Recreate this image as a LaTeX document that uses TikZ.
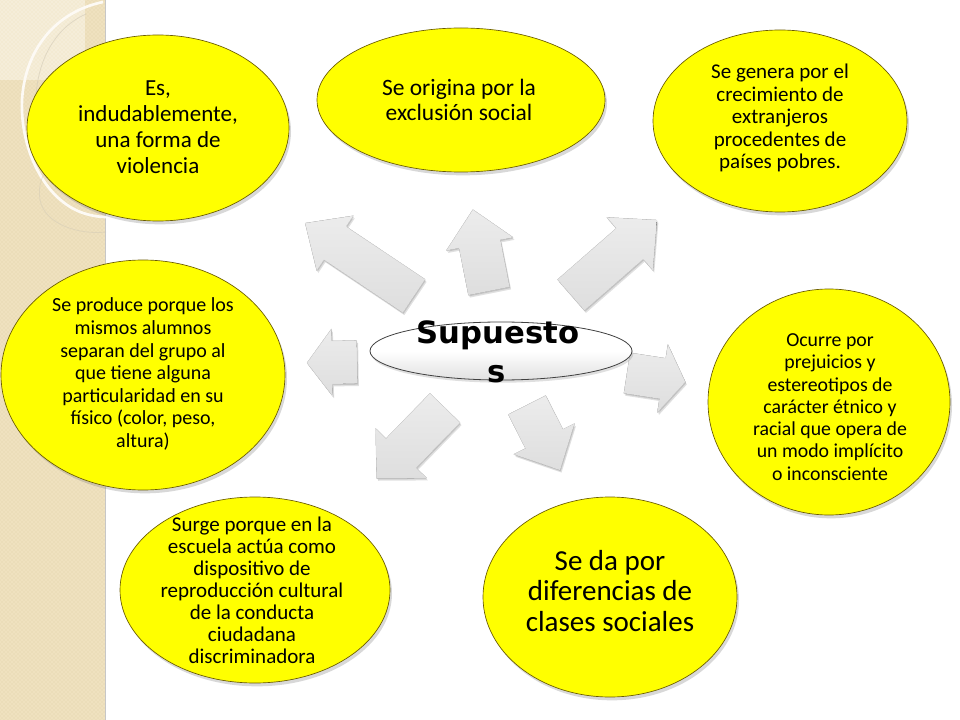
\documentclass[tikz,border=0pt]{standalone}
\usepackage{fontspec}
\setmainfont{Carlito}
\newfontfamily\hdfont{DejaVu Sans Bold}
\usetikzlibrary{shapes.geometric,shadows,patterns}
\definecolor{bubfill}{RGB}{255,255,0}
\definecolor{bubdraw}{RGB}{105,90,0}
\definecolor{stripc}{RGB}{239,225,191}
\definecolor{striptop}{RGB}{245,237,217}
\definecolor{stripdot}{RGB}{226,208,168}
\definecolor{arrtop}{RGB}{236,236,236}
\definecolor{arrbot}{RGB}{222,222,222}
\tikzset{
  bubble/.style={ellipse, fill=bubfill, draw=bubdraw, line width=0.5pt, inner sep=0pt,
    drop shadow={opacity=0.3, shadow xshift=1.5pt, shadow yshift=-2.5pt}},
  txt/.style={align=center, inner sep=0pt, text=black},
  arrbody/.style={top color=arrtop, bottom color=arrbot, draw=arrbot, line width=0.3pt, line join=round},
  arrshadow/.style={fill=black, opacity=0.12},
}
% tail x, tail y, angle, length, shaft width, head width, head length (pixels)
\newcommand\blockarr[7]{%
  \begin{scope}[shift={(#1+1.5,#2+2.5)},rotate=#3]
    \fill[arrshadow] (0,-#5/2) -- (#4-#7,-#5/2) -- (#4-#7,-#6/2) -- (#4,0) -- (#4-#7,#6/2) -- (#4-#7,#5/2) -- (0,#5/2) -- cycle;
  \end{scope}
  \begin{scope}[shift={(#1+0.7,#2+1.2)},rotate=#3]
    \fill[arrshadow] (0,-#5/2) -- (#4-#7,-#5/2) -- (#4-#7,-#6/2) -- (#4,0) -- (#4-#7,#6/2) -- (#4-#7,#5/2) -- (0,#5/2) -- cycle;
  \end{scope}
  \begin{scope}[shift={(#1,#2)},rotate=#3]
    \filldraw[arrbody] (0,-#5/2) -- (#4-#7,-#5/2) -- (#4-#7,-#6/2) -- (#4,0) -- (#4-#7,#6/2) -- (#4-#7,#5/2) -- (0,#5/2) -- cycle;
  \end{scope}}
\begin{document}
\begin{tikzpicture}[x=0.75pt,y=-0.75pt]
\useasboundingbox (0,0) rectangle (960,720);
\fill[white] (0,0) rectangle (960,720);
% left decorative strip
\fill[stripc] (0,0) rectangle (105,720);
\fill[pattern=crosshatch dots, pattern color=stripdot] (0,0) rectangle (105,720);
\fill[striptop] (0,0) rectangle (85,80);
\fill[pattern=crosshatch dots, pattern color=stripc] (0,0) rectangle (85,80);
\draw[black!22, line width=0.8pt] (105.5,0) -- (105.5,720);
\draw[white!85!stripc, line width=2pt] (103,2) .. controls (55,12) and (25,50) .. (22,100)
   .. controls (20,150) and (45,200) .. (83,213) .. controls (92,216) and (100,217) .. (106,217);
\draw[stripdot!80!black!60, line width=0.6pt, opacity=0.6] (86,14) .. controls (50,30) and (34,70) .. (36,110)
   .. controls (38,160) and (60,195) .. (106,205);
\draw[stripdot!80!black!60, line width=0.6pt, opacity=0.5] (106,150) .. controls (60,145) and (35,170) .. (40,200)
   .. controls (45,225) and (80,235) .. (106,232);
% block arrows
\blockarr{414}{296}{146.2}{131}{40}{66}{36}
\blockarr{489}{291}{101.2}{83}{42}{68}{35}
\blockarr{571}{295}{41.1}{114}{41}{70}{36}
\blockarr{357}{362}{181}{50}{43}{67}{25}
\blockarr{627}{373}{-8.8}{59}{41}{69}{23}
\blockarr{445}{408}{225.8}{98}{42}{71}{35}
\blockarr{527}{405}{-63.1}{73}{42}{68}{35}
% central ellipse
\node[ellipse, draw=black!75, line width=0.6pt, top color=white, bottom color=black!12, middle color=white,
      minimum width=262*0.75pt, minimum height=58*0.75pt, inner sep=0pt,
      drop shadow={opacity=0.25, shadow xshift=1pt, shadow yshift=-2pt}] (c) at (501,351) {};
\node[anchor=base, inner sep=0pt, font=\hdfont\fontsize{23}{27}\selectfont] (cl1) at (498,343) {Supuesto};
\node[anchor=base, inner sep=0pt, font=\hdfont\fontsize{23}{27}\selectfont] (cl2) at (497,382) {s};
% bubbles
\node[bubble, minimum width=262*0.75pt, minimum height=186*0.75pt] (b1) at (158,128) {};
\node[bubble, minimum width=288*0.75pt, minimum height=144*0.75pt] (b2) at (461,100) {};
\node[bubble, minimum width=254*0.75pt, minimum height=182*0.75pt] (b3) at (780,121) {};
\node[bubble, minimum width=242*0.75pt, minimum height=226*0.75pt] (b4) at (829,402) {};
\node[bubble, minimum width=254*0.75pt, minimum height=200*0.75pt] (b5) at (610,597) {};
\node[bubble, minimum width=270*0.75pt, minimum height=186*0.75pt] (b6) at (255,590) {};
\node[bubble, minimum width=284*0.75pt, minimum height=230*0.75pt] (b7) at (143,375) {};
% texts
\node[txt, font=\fontsize{17.25}{19.5}\selectfont] (t1) at (158,127)
  {Es,\\indudablemente,\\una forma de\\violencia};
\node[txt, font=\fontsize{17.6}{18.75}\selectfont] (t2) at (459,100)
  {Se origina por la\\exclusión social};
\node[txt, font=\fontsize{15.75}{16.9}\selectfont] (t3) at (780,118)
  {Se genera por el\\crecimiento de\\extranjeros\\procedentes de\\países pobres.};
\node[txt, font=\fontsize{14.85}{16.7}\selectfont] (t4) at (830,407)
  {Ocurre por\\prejuicios y\\estereotipos de\\carácter étnico y\\racial que opera de\\un modo implícito\\o inconsciente};
\node[txt, font=\fontsize{21.75}{22.9}\selectfont] (t5) at (610,591)
  {Se da por\\diferencias de\\clases sociales};
\node[txt, font=\fontsize{15.75}{16.5}\selectfont] (t6) at (252,590)
  {Surge porque en la\\escuela actúa como\\dispositivo de\\reproducción cultural\\de la conducta\\ciudadana\\discriminadora};
\node[txt, font=\fontsize{15}{16.9}\selectfont] (t7) at (143,374)
  {Se produce porque los\\mismos alumnos\\separan del grupo al\\que tiene alguna\\particularidad en su\\físico (color, peso,\\altura)};
\end{tikzpicture}
\end{document}
